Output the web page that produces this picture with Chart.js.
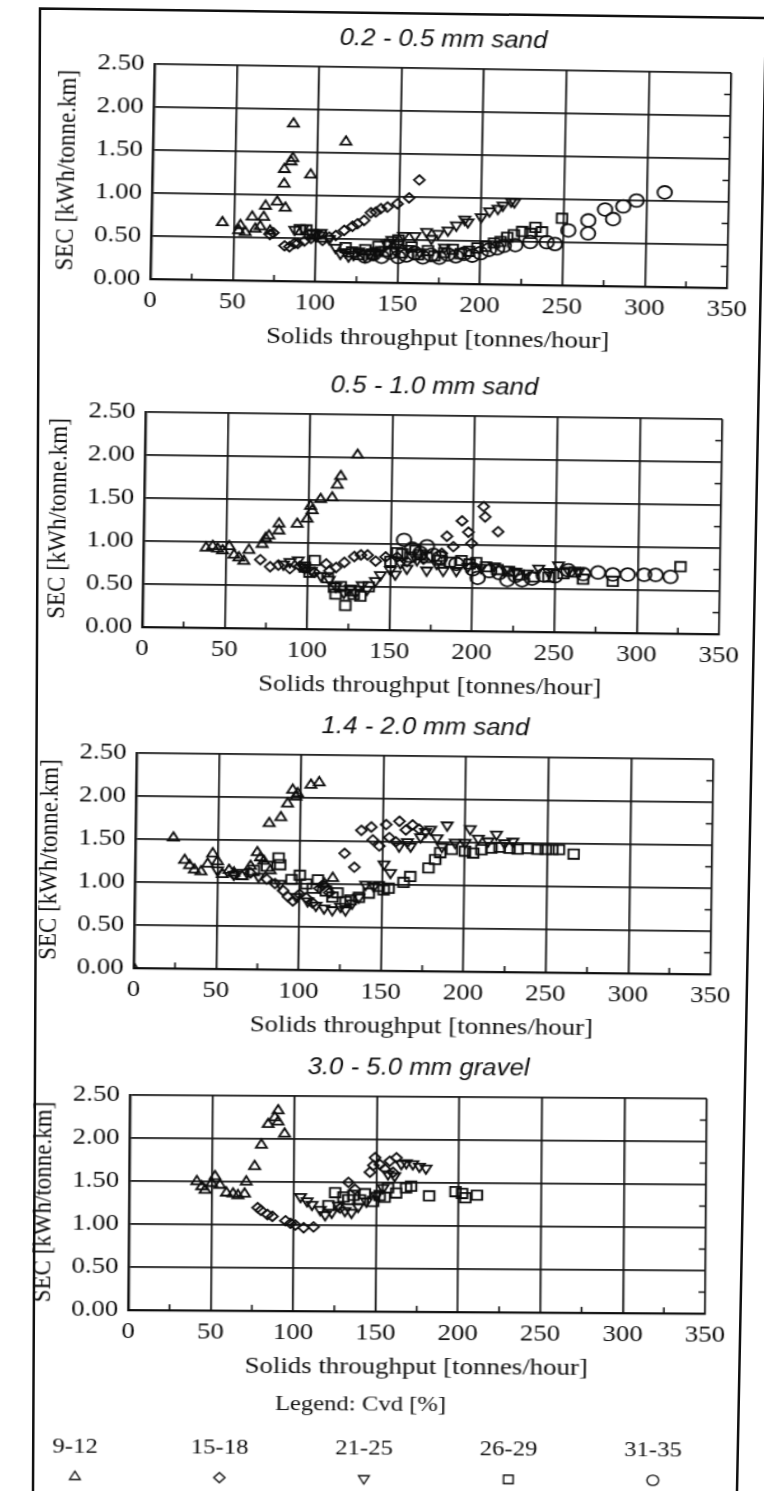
<!DOCTYPE html>
<html><head><meta charset="utf-8">
<script src="https://cdn.jsdelivr.net/npm/chart.js@4.4.1/dist/chart.umd.min.js"></script>
<style>
html,body{margin:0;padding:0;background:#fff;overflow:hidden;width:764px;height:1491px;}
#stage{position:absolute;left:0;top:0;width:682px;height:1491px;transform:scaleX(1.12);transform-origin:0 0;}
.panel{position:absolute;}
.panel canvas{display:block;}
#frame{position:absolute;left:0;top:0;}
</style></head><body>
<svg id="frame" width="764" height="1491"><polyline points="33,1491 40,8.5 766,18 737,1491" fill="none" stroke="#111" stroke-width="2.5"/></svg>
<div id="stage"></div>
<script>
// ---------- text ----------
const panelTitles = ['0.2 - 0.5 mm sand', '0.5 - 1.0 mm sand', '1.4 - 2.0 mm sand', '3.0 - 5.0 mm gravel'];
const seriesLabels = ['9-12', '15-18', '21-25', '26-29', '31-35'];
const xTickLabels = ['0', '50', '100', '150', '200', '250', '300', '350'];
const yTickLabels = ['0.00', '0.50', '1.00', '1.50', '2.00', '2.50'];
const xMinorTicks = [25, 75, 125, 175, 225, 275, 325];
const yMinorTicks = [0.25, 0.75, 1.25, 1.75, 2.25];
const xAxisTitle = 'Solids throughput [tonnes/hour]';
const yAxisTitle = 'SEC [kWh/tonne.km]';
const legendTitle = 'Legend: Cvd [%]';

// ---------- data: [throughput t/h, SEC kWh/tonne.km] ----------
// Panel 1: 0.2 - 0.5 mm sand
const p1Cvd9to12 = [[43,0.67],[53,0.58],[54,0.64],[57,0.56],[61,0.74],[63,0.6],[66,0.63],[68,0.74],[69,0.87],[72,0.58],[76,0.92],[80,1.13],[80,1.3],[81,0.85],[84,1.39],[85,1.43],[85,1.83],[96,1.24],[117,1.63]];
const p1Cvd15to18 = [[72,0.54],[74,0.56],[81,0.41],[84,0.4],[87,0.44],[89,0.44],[93,0.47],[97,0.5],[100,0.52],[104,0.48],[108,0.52],[112,0.54],[117,0.6],[122,0.65],[125,0.68],[129,0.72],[133,0.81],[136,0.82],[139,0.86],[143,0.88],[149,0.92],[156,0.99],[162,1.2]];
const p1Cvd21to25 = [[87,0.6],[92,0.62],[97,0.56],[100,0.55],[103,0.57],[108,0.5],[112,0.4],[115,0.33],[118,0.35],[120,0.3],[123,0.32],[126,0.36],[130,0.3],[133,0.33],[137,0.35],[140,0.38],[143,0.45],[146,0.5],[148,0.38],[150,0.45],[153,0.55],[156,0.4],[160,0.55],[163,0.36],[167,0.6],[170,0.52],[174,0.58],[178,0.42],[180,0.62],[185,0.68],[190,0.75],[192,0.72],[200,0.78],[205,0.85],[210,0.88],[213,0.92],[218,0.97],[220,0.96]];
const p1Cvd26to29 = [[90,0.6],[94,0.6],[98,0.55],[103,0.52],[118,0.4],[122,0.35],[126,0.32],[130,0.38],[134,0.33],[138,0.42],[142,0.36],[145,0.45],[150,0.5],[152,0.35],[158,0.42],[162,0.33],[168,0.38],[172,0.32],[178,0.36],[183,0.4],[188,0.35],[193,0.38],[198,0.42],[203,0.44],[208,0.48],[212,0.5],[216,0.55],[220,0.58],[225,0.62],[230,0.6],[233,0.67],[237,0.62],[249,0.78]];
const p1Cvd31to35 = [[130,0.3],[135,0.33],[140,0.3],[145,0.35],[150,0.3],[155,0.32],[160,0.35],[165,0.3],[170,0.33],[175,0.3],[180,0.34],[185,0.32],[190,0.35],[195,0.33],[200,0.36],[205,0.4],[210,0.42],[214,0.45],[221,0.46],[230,0.5],[240,0.5],[245,0.48],[253,0.64],[265,0.76],[265,0.61],[275,0.89],[280,0.78],[286,0.93],[294,1.0],[311,1.1]];

// Panel 2: 0.5 - 1.0 mm sand
const p2Cvd9to12 = [[38,0.93],[42,0.95],[45,0.92],[48,0.9],[52,0.95],[55,0.85],[58,0.82],[61,0.78],[64,0.91],[72,0.98],[74,1.05],[76,1.08],[82,1.14],[82,1.22],[93,1.22],[99,1.28],[101,1.43],[102,1.38],[107,1.51],[114,1.53],[117,1.68],[119,1.78],[129,2.03]];
const p2Cvd15to18 = [[71,0.8],[77,0.72],[82,0.74],[89,0.7],[95,0.73],[98,0.7],[104,0.66],[111,0.76],[113,0.68],[117,0.72],[122,0.78],[128,0.85],[132,0.87],[136,0.87],[141,0.8],[147,0.85],[154,0.85],[160,0.8],[170,0.83],[181,0.9],[184,1.1],[188,0.98],[193,1.28],[197,1.15],[199,1.02],[206,1.45],[207,1.33],[215,1.16]];
const p2Cvd21to25 = [[85,0.75],[89,0.78],[94,0.8],[98,0.72],[102,0.68],[108,0.62],[113,0.58],[117,0.5],[122,0.43],[126,0.48],[129,0.43],[133,0.52],[136,0.47],[141,0.57],[144,0.64],[150,0.7],[153,0.65],[156,0.78],[160,0.72],[166,0.82],[172,0.7],[178,0.78],[182,0.7],[190,0.7],[197,0.75],[205,0.74],[213,0.76],[220,0.72],[226,0.7],[233,0.68],[240,0.74],[246,0.7],[252,0.78],[258,0.72],[264,0.7]];
const p2Cvd26to29 = [[98,0.72],[101,0.66],[104,0.8],[112,0.6],[116,0.49],[117,0.41],[120,0.5],[123,0.28],[126,0.45],[128,0.41],[132,0.39],[137,0.5],[150,0.8],[154,0.9],[157,0.89],[162,0.85],[165,0.93],[168,0.88],[172,0.85],[180,0.82],[186,0.8],[193,0.82],[198,0.78],[202,0.8],[208,0.75],[215,0.72],[222,0.7],[228,0.66],[237,0.64],[246,0.64],[255,0.68],[262,0.7],[267,0.62],[285,0.6],[326,0.78]];
const p2Cvd31to35 = [[158,1.05],[163,0.95],[168,0.9],[172,0.98],[176,0.88],[180,0.85],[190,0.78],[200,0.72],[203,0.62],[210,0.7],[216,0.68],[221,0.6],[226,0.65],[230,0.6],[236,0.62],[243,0.66],[250,0.65],[258,0.72],[267,0.68],[276,0.7],[285,0.68],[294,0.68],[304,0.68],[311,0.68],[320,0.66]];

// Panel 3: 1.4 - 2.0 mm sand
const p3Cvd9to12 = [[0,0],[23,1.52],[30,1.26],[33,1.2],[36,1.15],[40,1.13],[44,1.22],[47,1.34],[50,1.25],[53,1.1],[57,1.15],[60,1.12],[65,1.08],[70,1.2],[74,1.36],[76,1.3],[78,1.26],[82,1.15],[81,1.7],[88,1.77],[92,1.93],[95,2.09],[97,2.01],[98,2.05],[106,2.15],[111,2.18],[115,1.0],[120,1.07]];
const p3Cvd15to18 = [[60,1.1],[70,1.12],[80,1.05],[85,1.0],[90,0.92],[93,0.85],[96,0.8],[100,0.88],[104,0.84],[108,0.78],[112,0.95],[114,0.99],[118,0.9],[127,1.36],[133,1.2],[137,1.63],[143,1.67],[144,1.52],[148,1.45],[152,1.7],[154,1.55],[158,1.5],[160,1.74],[164,1.64],[168,1.7],[172,1.65]];
const p3Cvd21to25 = [[50,1.15],[60,1.1],[75,1.08],[88,1.0],[98,0.85],[105,0.8],[110,0.75],[115,0.72],[120,0.7],[125,0.74],[128,0.7],[132,0.78],[136,0.85],[140,1.0],[145,0.98],[151,1.24],[155,1.14],[160,1.45],[165,1.5],[167,1.45],[173,1.56],[176,1.62],[179,1.65],[183,1.55],[186,1.45],[189,1.7],[194,1.5],[200,1.5],[203,1.66],[208,1.55],[214,1.52],[219,1.6],[224,1.5],[229,1.52]];
const p3Cvd26to29 = [[65,1.1],[72,1.15],[80,1.2],[87,1.3],[88,1.22],[95,1.05],[100,1.1],[104,1.0],[108,0.95],[111,1.05],[116,0.92],[120,0.85],[123,0.9],[128,0.8],[131,0.82],[136,0.85],[142,0.9],[148,0.98],[151,0.94],[154,0.96],[163,1.03],[167,1.1],[178,1.2],[182,1.3],[185,1.38],[192,1.42],[200,1.4],[205,1.38],[210,1.42],[216,1.44],[221,1.45],[227,1.44],[232,1.43],[238,1.44],[244,1.43],[249,1.43],[253,1.43],[257,1.43],[266,1.38]];
const p3Cvd31to35 = [];

// Panel 4: 3.0 - 5.0 mm gravel
const p4Cvd9to12 = [[41,1.5],[44,1.44],[46,1.4],[50,1.48],[52,1.56],[55,1.46],[59,1.37],[63,1.36],[66,1.34],[70,1.36],[71,1.5],[76,1.68],[80,1.93],[84,2.17],[88,2.25],[90,2.33],[90,2.2],[94,2.06]];
const p4Cvd15to18 = [[78,1.2],[80,1.17],[84,1.12],[87,1.1],[95,1.05],[98,1.02],[101,1.0],[106,0.97],[112,0.98],[128,1.2],[133,1.5],[137,1.42],[146,1.62],[148,1.7],[149,1.79],[152,1.71],[155,1.66],[158,1.75],[160,1.62],[162,1.79]];
const p4Cvd21to25 = [[104,1.33],[108,1.28],[111,1.24],[116,1.18],[119,1.12],[123,1.15],[127,1.23],[131,1.17],[135,1.15],[139,1.22],[144,1.28],[150,1.35],[154,1.44],[157,1.6],[161,1.58],[165,1.72],[168,1.73],[172,1.72],[176,1.69],[180,1.67]];
const p4Cvd26to29 = [[121,1.23],[125,1.38],[130,1.33],[133,1.3],[136,1.35],[140,1.3],[143,1.37],[148,1.28],[152,1.35],[155,1.33],[157,1.44],[162,1.38],[168,1.44],[171,1.46],[182,1.35],[198,1.4],[202,1.38],[204,1.33],[211,1.36]];
const p4Cvd31to35 = [];

const panelSeries = [
  [p1Cvd9to12, p1Cvd15to18, p1Cvd21to25, p1Cvd26to29, p1Cvd31to35],
  [p2Cvd9to12, p2Cvd15to18, p2Cvd21to25, p2Cvd26to29, p2Cvd31to35],
  [p3Cvd9to12, p3Cvd15to18, p3Cvd21to25, p3Cvd26to29, p3Cvd31to35],
  [p4Cvd9to12, p4Cvd15to18, p4Cvd21to25, p4Cvd26to29, p4Cvd31to35]
];

// ---------- styles & layout ----------
const INK = '#0d0d0d';
const GRID = '#161616';
const SERIF = '"Liberation Serif", "Times New Roman", serif';
const SANS = '"Liberation Sans", Arial, sans-serif';
const markerStyles = [
  {pointStyle: 'triangle', radius: 5.6, rotation: 0, legendRadius: 5.5},
  {pointStyle: 'rectRot', radius: 4.8, rotation: 0, legendRadius: 5},
  {pointStyle: 'triangle', radius: 5.6, rotation: 180, legendRadius: 5.5},
  {pointStyle: 'rect', radius: 6.6, rotation: 0, legendRadius: 6},
  {pointStyle: 'circle', radius: 6.4, rotation: 0, legendRadius: 5.2}
];
const STRETCH = 1.12;
const PLOT_W = 515, PLOT_H = 215;
const Y_AXIS_W = 94, TITLE_BLOCK = 48, X_AXIS_H = 74, RIGHT_PAD = 30, LEGEND_H = 115;
const MINOR_LEN = 6;
// page position of each plot's top-left corner, and scan tilt
const panelPlaces = [
  {left: 155, top: 64, tilt: 1.0},
  {left: 146, top: 412, tilt: 0.8},
  {left: 136.6, top: 753, tilt: 0.7},
  {left: 130, top: 1095, tilt: 0.4}
];
const LEGEND = {titleDX: 208, titleDY: 93, firstDX: -46.5, stepDX: 129, labelDY: 137, symbolDY: 167};

const minorTicksPlugin = {
  id: 'minorTicks',
  afterDraw(chart) {
    const {ctx, chartArea: a, scales} = chart;
    ctx.save();
    ctx.strokeStyle = INK; ctx.lineWidth = 1.5;
    ctx.beginPath();
    xMinorTicks.forEach(v => { const px = scales.x.getPixelForValue(v); ctx.moveTo(px, a.bottom); ctx.lineTo(px, a.bottom - MINOR_LEN); });
    yMinorTicks.forEach(v => { const py = scales.y.getPixelForValue(v); ctx.moveTo(a.right, py); ctx.lineTo(a.right - MINOR_LEN, py); });
    ctx.stroke();
    ctx.restore();
  }
};

const legendPlugin = {
  id: 'cvdLegend',
  afterDraw(chart) {
    const {ctx, chartArea: a} = chart;
    ctx.save();
    ctx.fillStyle = INK; ctx.textAlign = 'center'; ctx.textBaseline = 'middle';
    ctx.font = '22px ' + SERIF;
    ctx.fillText(legendTitle, a.left + LEGEND.titleDX, a.bottom + LEGEND.titleDY);
    seriesLabels.forEach((lab, k) => {
      const x = a.left + LEGEND.firstDX + k * LEGEND.stepDX;
      ctx.fillStyle = INK;
      ctx.fillText(lab, x, a.bottom + LEGEND.labelDY);
      const m = markerStyles[k];
      ctx.strokeStyle = INK; ctx.lineWidth = 1.3; ctx.fillStyle = 'rgba(0,0,0,0)';
      Chart.helpers.drawPoint(ctx, {pointStyle: m.pointStyle, rotation: m.rotation, radius: m.legendRadius, borderWidth: 1.3}, x, a.bottom + LEGEND.symbolDY);
    });
    ctx.restore();
  }
};

const stage = document.getElementById('stage');
panelSeries.forEach((series, i) => {
  const place = panelPlaces[i];
  const isLast = i === panelSeries.length - 1;
  const w = Y_AXIS_W + PLOT_W + RIGHT_PAD;
  const h = TITLE_BLOCK + PLOT_H + X_AXIS_H + (isLast ? LEGEND_H : 0);
  const div = document.createElement('div');
  div.className = 'panel';
  div.style.left = (place.left / STRETCH - Y_AXIS_W) + 'px';
  div.style.top = (place.top - TITLE_BLOCK) + 'px';
  div.style.width = w + 'px';
  div.style.height = h + 'px';
  div.style.transformOrigin = Y_AXIS_W + 'px ' + TITLE_BLOCK + 'px';
  div.style.transform = 'rotate(' + place.tilt + 'deg)';
  const canvas = document.createElement('canvas');
  canvas.width = w; canvas.height = h;
  div.appendChild(canvas);
  stage.appendChild(div);

  new Chart(canvas, {
    type: 'scatter',
    data: {
      datasets: series.map((d, k) => ({
        label: seriesLabels[k],
        data: d,
        showLine: false,
        pointStyle: markerStyles[k].pointStyle,
        pointRadius: markerStyles[k].radius,
        pointHoverRadius: markerStyles[k].radius,
        pointRotation: markerStyles[k].rotation,
        pointBorderWidth: 1.8,
        pointBorderColor: INK,
        pointBackgroundColor: 'rgba(0,0,0,0)'
      }))
    },
    options: {
      responsive: false,
      animation: false,
      devicePixelRatio: 1,
      events: [],
      layout: {padding: {left: 0, right: RIGHT_PAD, top: 0, bottom: isLast ? LEGEND_H : 0}},
      plugins: {
        legend: {display: false},
        tooltip: {enabled: false},
        title: {
          display: true, text: panelTitles[i], fullSize: false, color: INK,
          font: {family: SANS, size: 23, style: 'italic', weight: 'normal', lineHeight: 1.2},
          padding: {top: 6, bottom: 14.4}
        }
      },
      scales: {
        x: {
          type: 'linear', position: 'bottom', min: 0, max: 350,
          afterFit: s => { s.height = X_AXIS_H; },
          ticks: {stepSize: 50, padding: 7.6, color: INK, maxRotation: 0, autoSkip: false,
            font: {family: SERIF, size: 24, lineHeight: 1.2},
            callback: (v, idx) => xTickLabels[idx]},
          grid: {color: GRID, lineWidth: 1.7, drawTicks: false},
          border: {color: INK, width: 2.3},
          title: {display: true, text: xAxisTitle, color: INK,
            font: {family: SERIF, size: 24, lineHeight: 1.2}, padding: {top: 0, bottom: 4}}
        },
        y: {
          type: 'linear', position: 'left', min: 0, max: 2.5,
          afterFit: s => { s.width = Y_AXIS_W; },
          ticks: {stepSize: 0.5, padding: 9, color: INK, autoSkip: false,
            font: {family: SERIF, size: 24, lineHeight: 1.2},
            callback: (v, idx) => yTickLabels[idx]},
          grid: {color: GRID, lineWidth: 1.7, drawTicks: false},
          border: {color: INK, width: 2.3},
          title: {display: true, text: yAxisTitle, color: INK,
            font: {family: SERIF, size: 23, lineHeight: 1.2}, padding: {top: 4, bottom: 0}}
        }
      }
    },
    plugins: isLast ? [minorTicksPlugin, legendPlugin] : [minorTicksPlugin]
  });
});
</script>
</body></html>
